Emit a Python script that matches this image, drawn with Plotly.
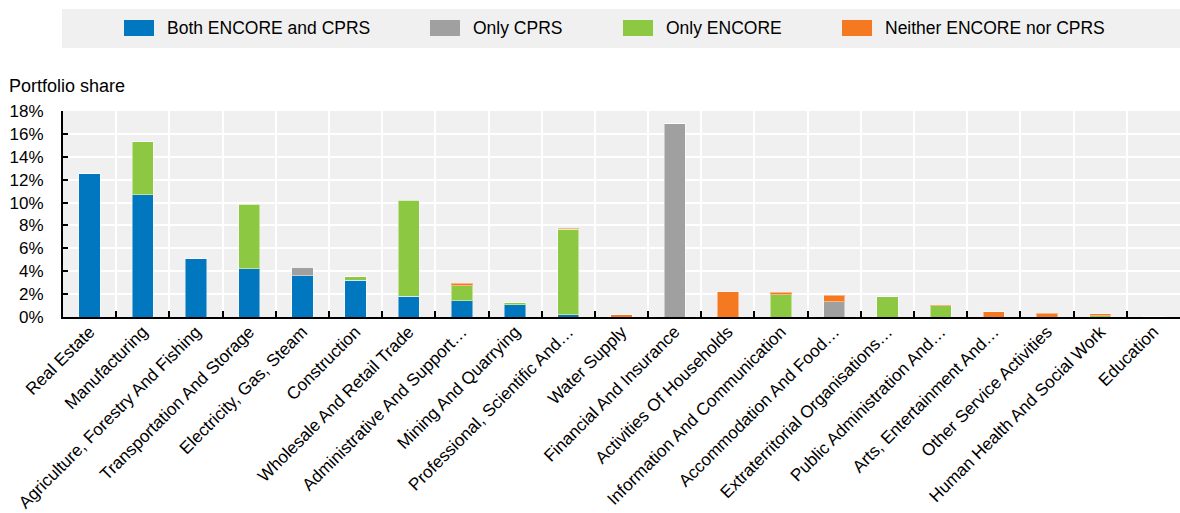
import plotly.graph_objects as go

categories = [
    "Real Estate", "Manufacturing", "Agriculture, Forestry And Fishing",
    "Transportation And Storage", "Electricity, Gas, Steam", "Construction",
    "Wholesale And Retail Trade", "Administrative And Support…",
    "Mining And Quarrying", "Professional, Scientific And…", "Water Supply",
    "Financial And Insurance", "Activities Of Households",
    "Information And Communication", "Accommodation And Food…",
    "Extraterritorial Organisations…", "Public Administration And…",
    "Arts, Entertainment And…", "Other Service Activities",
    "Human Health And Social Work", "Education",
]

both_encore_cprs = [12.5, 10.7, 5.1, 4.2, 3.6, 3.2, 1.8, 1.4, 1.05, 0.2, 0, 0, 0, 0, 0, 0, 0, 0, 0, 0, 0]
only_cprs = [0, 0, 0, 0, 0.75, 0, 0, 0, 0, 0, 0, 16.9, 0, 0, 1.35, 0, 0, 0, 0, 0, 0]
only_encore = [0, 4.6, 0, 5.65, 0, 0.3, 8.4, 1.35, 0.18, 7.45, 0, 0, 0, 1.95, 0, 1.75, 1.0, 0, 0, 0.12, 0.03]
neither = [0, 0, 0, 0, 0, 0, 0, 0.2, 0, 0.1, 0.18, 0, 2.2, 0.23, 0.53, 0, 0.02, 0.45, 0.32, 0.15, 0]

series_names = ["Both ENCORE and CPRS", "Only CPRS", "Only ENCORE", "Neither ENCORE nor CPRS"]
series_values = [both_encore_cprs, only_cprs, only_encore, neither]
series_colors = ["#0077BE", "#A0A0A0", "#8CC841", "#F47920"]

y_tick_vals = [0, 2, 4, 6, 8, 10, 12, 14, 16, 18]
y_tick_text = ["0%", "2%", "4%", "6%", "8%", "10%", "12%", "14%", "16%", "18%"]
y_title = "Portfolio share"

FONT = "Liberation Sans, Arial, sans-serif"

W, H = 1180, 513
ML, MR, MT, MB = 63, 0, 111, 196
PW = W - ML - MR
PH = H - MT - MB


def px_x(px):
    return (px - ML) / PW


def px_y(py):
    return (H - MB - py) / PH


fig = go.Figure()
for name, vals, col in zip(series_names, series_values, series_colors):
    fig.add_trace(go.Bar(
        x=categories, y=vals, name=name,
        marker=dict(color=col, line=dict(color="rgba(255,255,255,0.45)", width=1)),
        showlegend=False,
    ))

# manual legend (full-width grey band)
shapes = [dict(type="rect", xref="paper", yref="paper",
               x0=px_x(62), x1=px_x(1180), y0=px_y(48), y1=px_y(9),
               fillcolor="#F0F0F0", line=dict(width=0), layer="below")]
annotations = []
swatch_left = [124, 430, 623, 842]
for name, col, sx in zip(series_names, series_colors, swatch_left):
    shapes.append(dict(type="rect", xref="paper", yref="paper",
                       x0=px_x(sx), x1=px_x(sx + 30), y0=px_y(36), y1=px_y(20),
                       fillcolor=col, line=dict(width=0)))
    annotations.append(dict(text=name, xref="paper", yref="paper",
                            x=px_x(sx + 41), y=px_y(28), xanchor="left", yanchor="middle",
                            showarrow=False, font=dict(family=FONT, size=17.5, color="#000000")))

annotations.append(dict(text=y_title, xref="paper", yref="paper",
                        x=px_x(7), y=px_y(86), xanchor="left", yanchor="middle",
                        showarrow=False, font=dict(family=FONT, size=18, color="#000000")))

fig.update_layout(
    width=W, height=H,
    margin=dict(l=ML, r=MR, t=MT, b=MB, autoexpand=False),
    barmode="stack", bargap=0.6,
    paper_bgcolor="white", plot_bgcolor="#F0F0F0",
    font=dict(family=FONT, size=17, color="#000000"),
    shapes=shapes, annotations=annotations,
    showlegend=False,
)
fig.update_xaxes(
    type="category", tickson="boundaries", automargin=False,
    showgrid=True, gridcolor="white", gridwidth=2,
    ticks="inside", ticklen=6, tickwidth=2, tickcolor="black",
    showline=True, linecolor="black", linewidth=2,
    tickangle=-45, tickfont=dict(family=FONT, size=17.2, color="#000000"),
    ticklabelstandoff=-4,
)
fig.update_yaxes(
    range=[0, 18], tickvals=y_tick_vals, ticktext=y_tick_text, automargin=False,
    showgrid=True, gridcolor="white", gridwidth=2, zeroline=False,
    ticks="inside", ticklen=5, tickwidth=2, tickcolor="black",
    showline=True, linecolor="black", linewidth=2,
    tickfont=dict(family=FONT, size=17, color="#000000"), ticklabelstandoff=14,
)

fig.write_html("out.html", config={"displayModeBar": False},
               post_script="document.body.style.margin='0';")
